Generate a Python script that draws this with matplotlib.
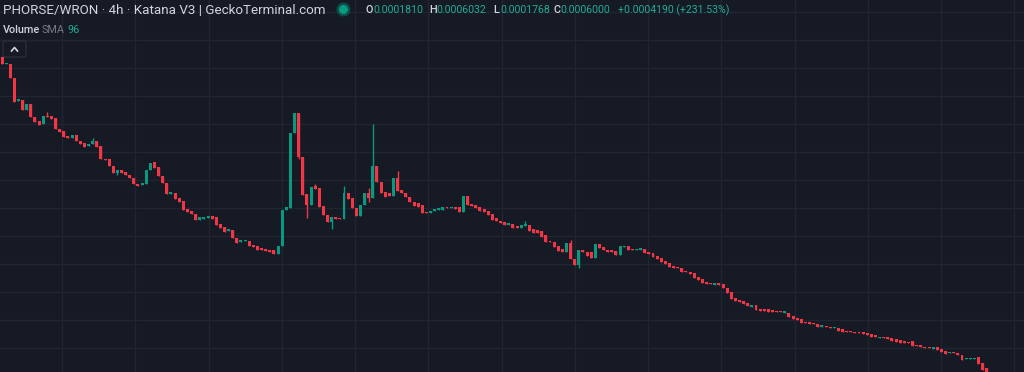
import numpy as np
import matplotlib.pyplot as plt
from matplotlib.lines import Line2D
from matplotlib.patches import FancyBboxPatch


# -----------------------------
# Data: PHORSE/WRON 4h candles (price level)
# -----------------------------

open_ = [
    343, 336, 336, 322, 299, 300, 290, 296, 283, 279, 276, 284, 284, 282, 271, 269, 264, 262, 265, 259,
    257, 254, 256, 259, 254, 241, 241, 234, 227, 230, 228, 225, 222, 216, 215, 216, 230, 238, 233, 224,
    217, 206, 207, 202, 199, 191, 189, 186, 180, 181, 182, 184, 183, 176, 173, 169, 170, 162, 158, 159,
    159, 155, 154, 152, 151, 150, 150, 146, 154, 190, 192, 267, 287, 243, 206, 195, 214, 212, 194, 185,
    178, 183, 182, 181, 207, 202, 192, 184, 195, 207, 202, 234, 218, 208, 207, 204, 222, 210, 207, 203,
    198, 197, 195, 188, 187, 189, 190, 190, 193, 192, 193, 193, 188, 204, 196, 195, 193, 191, 189, 186,
    182, 179, 178, 175, 176, 174, 172, 174, 175, 171, 170, 169, 165, 159, 158, 154, 151, 148, 157, 141,
    135, 150, 148, 148, 142, 156, 153, 150, 150, 149, 145, 153, 154, 151, 150, 150, 151, 148, 147, 144,
    142, 139, 137, 134, 133, 132, 129, 128, 127, 123, 121, 118, 117, 115, 117, 116, 112, 108, 102, 100,
    99, 97, 93, 95, 91, 91, 91, 90, 89, 89, 87, 87, 84, 82, 81, 78, 78, 77, 76, 73,
    74, 73, 72, 72, 71, 69, 69, 68, 68, 68, 67, 66, 65, 62, 63, 63, 62, 61, 60, 59,
    58, 59, 55, 55, 53, 53, 51, 53, 51, 49, 47, 48, 47, 45, 41, 41, 41, 43, 37, 32,
]

close = [
    336, 337, 322, 298, 301, 290, 296, 283, 278, 275, 284, 283, 281, 271, 268, 263, 262, 265, 259, 256,
    253, 256, 259, 253, 241, 240, 234, 227, 230, 227, 225, 222, 216, 214, 217, 230, 237, 232, 224, 217,
    206, 208, 201, 198, 190, 188, 186, 180, 183, 183, 184, 181, 175, 172, 168, 171, 162, 157, 160, 160,
    154, 153, 150, 150, 149, 148, 146, 154, 190, 193, 267, 287, 243, 205, 195, 213, 211, 193, 185, 178,
    183, 181, 181, 207, 201, 192, 184, 195, 207, 202, 234, 218, 207, 203, 204, 222, 209, 207, 203, 198,
    194, 193, 187, 187, 189, 191, 192, 193, 192, 193, 191, 188, 204, 195, 194, 192, 189, 188, 185, 180,
    179, 177, 175, 177, 172, 172, 175, 176, 169, 167, 167, 163, 158, 158, 153, 149, 148, 157, 141, 135,
    150, 148, 144, 142, 156, 152, 150, 148, 148, 145, 154, 154, 150, 150, 151, 152, 147, 146, 143, 141,
    138, 136, 133, 132, 132, 128, 128, 126, 122, 120, 117, 116, 116, 117, 115, 112, 107, 101, 99, 98,
    96, 94, 95, 90, 89, 89, 88, 88, 88, 88, 89, 83, 81, 80, 77, 77, 76, 76, 73, 75,
    73, 72, 73, 69, 68, 68, 68, 67, 67, 66, 65, 63, 63, 63, 62, 61, 59, 58, 57, 57,
    57, 54, 54, 53, 52, 52, 53, 50, 48, 46, 48, 47, 45, 40, 42, 42, 42, 36, 30, 24,
]

# visible wicks that reach past the candle body
wick_high = {11: 288, 22: 262, 76: 216, 83: 214, 89: 212, 90: 276, 96: 229, 127: 179, 138: 160}
wick_low = {28: 225, 72: 241, 74: 182, 80: 171, 89: 198, 140: 132}

title_text = "PHORSE/WRON · 4h · Katana V3 | GeckoTerminal.com"
ohlc_labels = ["O", "H", "L", "C"]
ohlc_values = ["0.0001810", "0.0006032", "0.0001768", "0.0006000"]
change_text = "+0.0004190 (+231.53%)"


# -----------------------------
# Style
# -----------------------------

BG = "#161a25"
GRID = "#212531"
UP = "#089981"
DOWN = "#f23645"
TEXT = "#d1d4dc"
MUTED = "#787b86"
TEAL = "#22ab94"

W, H = 1024, 372

fig = plt.figure(figsize=(W / 100, H / 100), dpi=100, facecolor=BG)
ax = fig.add_axes([0, 0, 1, 1], facecolor=BG)

o = np.array(open_, dtype=float)
c = np.array(close, dtype=float)
x = np.arange(len(o))
colors = np.where(c >= o, UP, DOWN)

hi = np.maximum(o, c)
lo = np.minimum(o, c)
for i, v in wick_high.items():
    hi[i] = v
for i, v in wick_low.items():
    lo[i] = v

ax.vlines(x, lo, hi, colors=colors, linewidth=1.0, zorder=2)
ax.bar(x, np.maximum(np.abs(c - o), 1.0), bottom=np.minimum(o, c), width=0.72,
       color=colors, linewidth=0, zorder=3)

ax.set_xlim(-0.49, 248.05)
ax.set_ylim(28, 400)

ax.set_xticks(np.arange(14.6, 250, 17.78))
ax.set_yticks(np.arange(52, 400, 28))
ax.grid(True, color=GRID, linewidth=1.0, zorder=0)
ax.tick_params(length=0, labelbottom=False, labelleft=False)
for s in ax.spines.values():
    s.set_visible(False)


def px(xp, yp):
    return xp / W, 1 - yp / H


font = "Roboto"

# header line
fig.text(*px(3, 10), title_text, color=TEXT, fontsize=9.6, family=font, va="center", ha="left")

fig.add_artist(Line2D([px(343, 9)[0]], [px(343, 9)[1]], marker="o", markersize=9,
                      color="#0d4f45", transform=fig.transFigure))
fig.add_artist(Line2D([px(343, 9)[0]], [px(343, 9)[1]], marker="o", markersize=5.5,
                      color=UP, transform=fig.transFigure))

label_x = [366, 429, 493, 553]
for lab, val, lx in zip(ohlc_labels, ohlc_values, label_x):
    fig.text(*px(lx, 10), lab, color=TEXT, fontsize=7.8, family=font, weight="medium",
             va="center", ha="left")
    fig.text(*px(lx + 7.5, 10), val, color=TEAL, fontsize=7.6, family=font, va="center", ha="left")
fig.text(*px(618, 10), change_text, color=TEAL, fontsize=7.6, family=font, va="center", ha="left")

# volume legend line
fig.text(*px(3, 30), "Volume", color=TEXT, fontsize=7.8, family=font, weight="medium",
         va="center", ha="left")
fig.text(*px(42, 30), "SMA", color=MUTED, fontsize=7.8, family=font, va="center", ha="left")
fig.text(*px(68, 30), "96", color=TEAL, fontsize=7.8, family=font, va="center", ha="left")

# collapse button
x0, y0 = px(3, 57)
x1, y1 = px(26, 41)
fig.add_artist(FancyBboxPatch((x0, y0), x1 - x0, y1 - y0, boxstyle="round,pad=0,rounding_size=0.004",
                              transform=fig.transFigure, facecolor=BG, edgecolor="#2a2e39", linewidth=1))
cx = [px(11.5, 51)[0], px(14.5, 47.5)[0], px(17.5, 51)[0]]
cy = [px(11.5, 51)[1], px(14.5, 47.5)[1], px(17.5, 51)[1]]
fig.add_artist(Line2D(cx, cy, color=TEXT, linewidth=1.2, transform=fig.transFigure))

fig.savefig("out.png", dpi=100, facecolor=BG)
